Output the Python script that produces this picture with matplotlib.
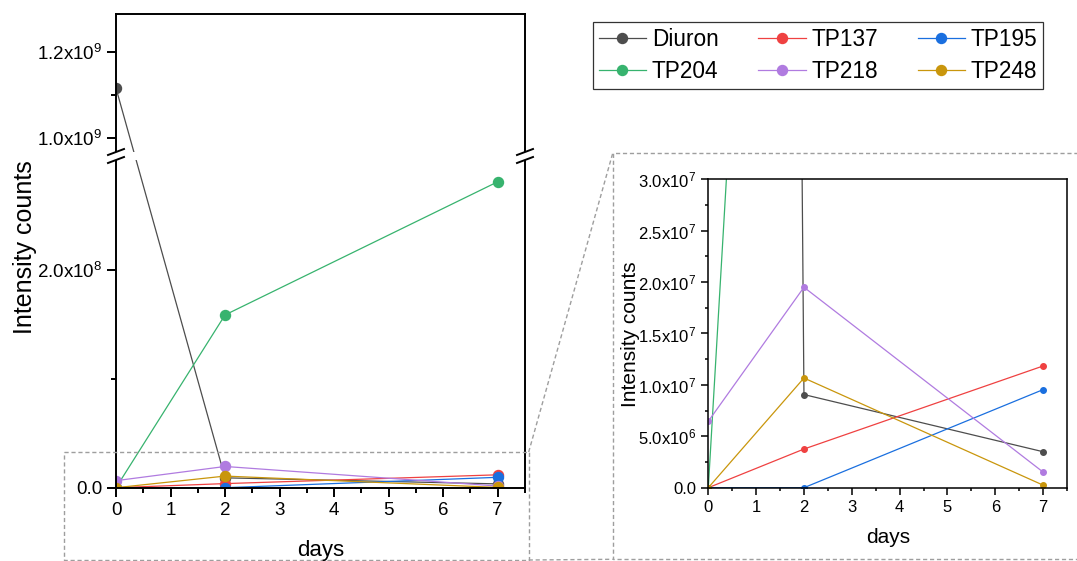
import numpy as np
import matplotlib
matplotlib.use('Agg')
import matplotlib.pyplot as plt
from matplotlib.ticker import FuncFormatter, MultipleLocator, FixedLocator
from matplotlib.lines import Line2D
from matplotlib.patches import Rectangle

plt.rcParams['font.family'] = ['Liberation Sans', 'DejaVu Sans']
plt.rcParams['mathtext.fontset'] = 'custom'
plt.rcParams['mathtext.rm'] = 'Liberation Sans'
plt.rcParams['mathtext.it'] = 'Liberation Sans:italic'
plt.rcParams['mathtext.bf'] = 'Liberation Sans:bold'

# Data (days vs intensity counts)
days = [0, 2, 7]
names = ['Diuron', 'TP137', 'TP195', 'TP204', 'TP218', 'TP248']
diuron = [1.116e9, 9.06e6, 3.5e6]
tp137 = [0, 3.76e6, 1.184e7]
tp195 = [0, 0, 9.54e6]
tp204 = [0, 1.587e8, 2.81e8]
tp218 = [6.46e6, 1.95e7, 1.52e6]
tp248 = [0, 1.067e7, 2.5e5]
series = [diuron, tp137, tp195, tp204, tp218, tp248]
colors = ['#4d4d4d', '#ef4141', '#1a6fdf', '#37b36e', '#b07be0', '#c9960c']

W, H = 1077, 561


def fx(px):
    return px / W


def fy(py):
    return 1 - py / H


def sci(v, pos):
    if v == 0:
        return '0.0'
    e = int(np.floor(np.log10(abs(v)) + 1e-9))
    return r'%.1fx10$^{%d}$' % (v / 10**e, e)


# broken y axis: piecewise linear scale (lower 0..b1, gap, upper b2..top)
b1, b2, ytop = 3.01e8, 0.967e9, 1.289e9
h1, gap, h2 = 327.7, 8.0, 138.0


def fwd(y):
    y = np.asarray(y, dtype=float)
    return np.where(y <= b1, y / b1 * h1,
                    np.where(y < b2, h1 + (y - b1) / (b2 - b1) * gap,
                             h1 + gap + (y - b2) / (ytop - b2) * h2))


def inv(u):
    u = np.asarray(u, dtype=float)
    return np.where(u <= h1, u / h1 * b1,
                    np.where(u < h1 + gap, b1 + (u - h1) / gap * (b2 - b1),
                             b2 + (u - h1 - gap) / h2 * (ytop - b2)))


fig = plt.figure(figsize=(W / 100, H / 100), dpi=100)

L, R = 116, 525
ax = fig.add_axes([fx(L), fy(487.7), fx(R) - fx(L), fy(14) - fy(487.7)])
ax_in = fig.add_axes([fx(708.3), fy(487.7), fx(1067) - fx(708.3), fy(179.3) - fy(487.7)])

ax.set_yscale('function', functions=(fwd, inv))
for name, ys, c in zip(names, series, colors):
    ax.plot(days, ys, '-o', color=c, lw=0.9, ms=7.2, label=name)
ax.set_xlim(0, 7.5)
ax.set_ylim(0, ytop)
for s in ax.spines.values():
    s.set_linewidth(1.4)
ax.yaxis.set_major_locator(FixedLocator([0, 2e8, 1.0e9, 1.2e9]))
ax.yaxis.set_minor_locator(FixedLocator([1e8, 1.1e9]))
ax.yaxis.set_major_formatter(FuncFormatter(sci))
ax.xaxis.set_major_locator(MultipleLocator(1))
ax.xaxis.set_minor_locator(MultipleLocator(0.5))
ax.tick_params(which='both', direction='out', right=False, top=False,
               labelsize=13.5, width=1.4)
ax.tick_params(which='major', length=6.5)
ax.tick_params(which='minor', length=3.5)

# white gap and break marks
total = h1 + gap + h2
g0, g1 = h1 / total, (h1 + gap) / total
ax.add_patch(Rectangle((-0.03, g0), 1.06, g1 - g0, transform=ax.transAxes,
                       facecolor='white', edgecolor='none', clip_on=False, zorder=5))
wpx = R - L
for xa in (0, 1):
    for ya in (g0, g1):
        ax.add_line(Line2D([xa - 8 / wpx, xa + 8 / wpx], [ya - 3 / 473.7, ya + 3 / 473.7],
                           transform=ax.transAxes, color='black', lw=1.4,
                           clip_on=False, zorder=6))

# inset (zoom of the bottom)
for name, ys, c in zip(names, series, colors):
    ax_in.plot(days, ys, '-o', color=c, lw=0.9, ms=4)
ax_in.set_xlim(0, 7.5)
ax_in.set_ylim(0, 3e7)
ax_in.xaxis.set_major_locator(MultipleLocator(1))
ax_in.xaxis.set_minor_locator(MultipleLocator(0.5))
ax_in.yaxis.set_major_locator(MultipleLocator(5e6))
ax_in.yaxis.set_minor_locator(MultipleLocator(2.5e6))
ax_in.yaxis.set_major_formatter(FuncFormatter(sci))
for s in ax_in.spines.values():
    s.set_linewidth(1.1)
ax_in.tick_params(which='both', direction='out', right=False, top=False,
                  labelsize=12, width=1.1)
ax_in.tick_params(which='major', length=5)
ax_in.tick_params(which='minor', length=2.5)

# axis labels
fig.text(fx(25), fy(247), 'Intensity counts', rotation=90, ha='center', va='center', fontsize=18)
fig.text(fx(320.5), fy(556), 'days', ha='center', va='baseline', fontsize=16)
fig.text(fx(631), fy(334), 'Intensity counts', rotation=90, ha='center', va='center', fontsize=15)
fig.text(fx(888), fy(542.7), 'days', ha='center', va='baseline', fontsize=15)

# dashed zoom indicator
dash = dict(color='#9e9e9e', lw=1.0, ls=(0, (3, 2)))
rect_pts = [(64, 452), (528.7, 452), (528.7, 560), (64, 560), (64, 452)]
fig.add_artist(Line2D([fx(p[0]) for p in rect_pts], [fy(p[1]) for p in rect_pts], **dash))
fig.add_artist(Line2D([fx(1080), fx(612.7), fx(612.7), fx(1080)],
                      [fy(153.3), fy(153.3), fy(559.3), fy(559.3)], **dash))
fig.add_artist(Line2D([fx(528.7), fx(612.7)], [fy(452), fy(153.3)], **dash))
fig.add_artist(Line2D([fx(528.7), fx(612.7)], [fy(560), fy(559.3)], **dash))

# legend filled row by row
handles, labels = ax.get_legend_handles_labels()
order = [0, 3, 1, 4, 2, 5]
leg = fig.legend([handles[i] for i in order], [labels[i] for i in order],
                 loc='upper left', bbox_to_anchor=(fx(593), fy(22)),
                 ncol=3, frameon=True, fancybox=False, edgecolor='black', fontsize=16.3,
                 handlelength=2.1, columnspacing=1.75, borderaxespad=0, borderpad=0.25,
                 labelspacing=0.42, handletextpad=0.25)
leg.get_frame().set_linewidth(0.9)

fig.savefig('out.png', dpi=100)
